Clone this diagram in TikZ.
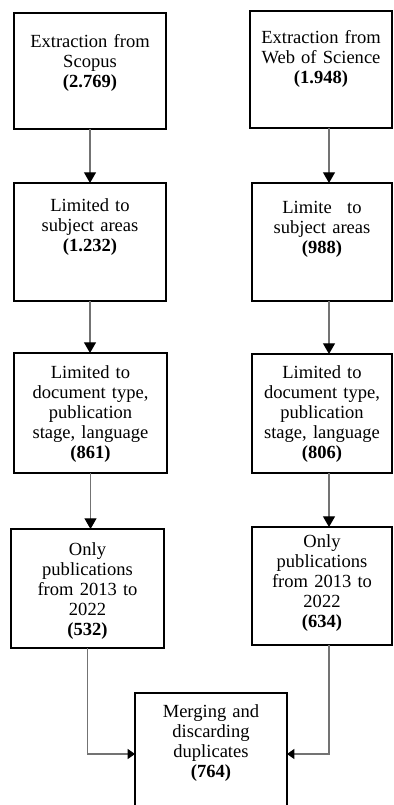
\documentclass[tikz,border=0pt]{standalone}
\usepackage{fontspec}
\setmainfont{Liberation Serif}
\usepackage{tikz}
\usetikzlibrary{arrows.meta,calc}

\begin{document}
\begin{tikzpicture}[x=0.75pt,y=-0.75pt,
    box/.style n args={3}{draw,line width=1.3pt,anchor=north,align=center,
      inner xsep=2pt,inner ysep=0pt,outer sep=0pt,
      font=\fontsize{13.9}{15}\selectfont,
      text width=#1,text height=#2,text depth=#3},
    link/.style={draw=black!55,line width=0.8pt,
      -{Triangle[width=9pt,length=8pt,color=black]}},
    side/.style={link,-{Triangle[width=7.5pt,length=5.5pt,color=black]}}]
    \useasboundingbox (0,0) rectangle (393,805);
    \clip (0,0) rectangle (393,805);

    \node[box={110pt}{26.25pt}{60.75pt}] (scopus) at (90,13)
      {Extraction from\\Scopus\\\textbf{(2.769)}};
    \node[box={102.5pt}{24.75pt}{63pt}] (wos) at (321,11)
      {Extraction from\\Web of Science\\\textbf{(1.948)}};
    \node[box={110pt}{21.75pt}{66.75pt}] (scopusArea) at (90,183)
      {Limited to\\subject areas\\\textbf{(1.232)}};
    \node[box={101pt}{23.25pt}{65.25pt}] (wosArea) at (322,183)
      {Limite\phantom{d} to\\subject areas\\\textbf{(988)}};
    \node[box={110.75pt}{18.75pt}{71.25pt}] (scopusType) at (90.5,353)
      {Limited to\\document type,\\publication\\stage, language\\\textbf{(861)}};
    \node[box={101pt}{18pt}{71.25pt}] (wosType) at (322,354)
      {Limited to\\document type,\\publication\\stage, language\\\textbf{(806)}};
    \node[box={110.75pt}{19.5pt}{69.75pt}] (scopusYear) at (87.5,529)
      {Only\\publications\\from 2013 to\\2022\\\textbf{(532)}};
    \node[box={101pt}{15pt}{73.5pt}] (wosYear) at (322,527)
      {Only\\publications\\from 2013 to\\2022\\\textbf{(634)}};
    \node[box={110pt}{18pt}{73.5pt}] (merge) at (211,693)
      {Merging and\\discarding\\duplicates\\\textbf{(764)}};

    \draw[link] (scopus.south) -- (scopus.south |- scopusArea.north);
    \draw[link] (scopusArea.south) -- (scopusArea.south |- scopusType.north);
    \draw[link] (scopusType.south) -- (scopusType.south |- scopusYear.north);
    \draw[link] ([xshift=6pt]wos.south) -- ([xshift=6pt]wos.south |- wosArea.north);
    \draw[link] ([xshift=5.25pt]wosArea.south) -- ([xshift=5.25pt]wosArea.south |- wosType.north);
    \draw[link] ([xshift=5.25pt]wosType.south) -- ([xshift=5.25pt]wosType.south |- wosYear.north);
    \draw[side] (scopusYear.south) |- (merge.west);
    \draw[side] ([xshift=5.25pt]wosYear.south) |- (merge.east);
  \end{tikzpicture}
\end{document}
